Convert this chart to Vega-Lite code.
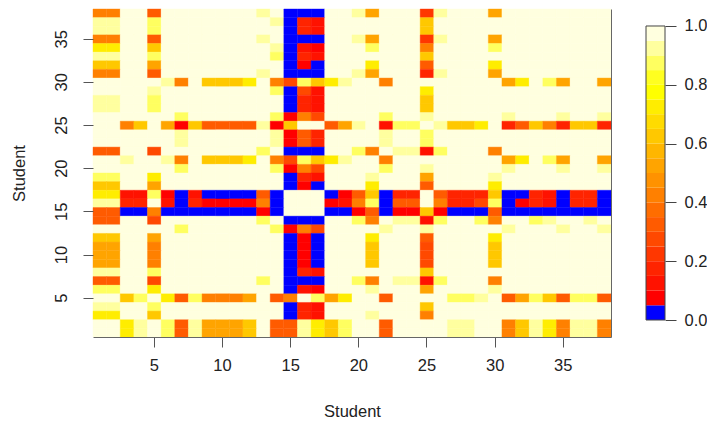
{"$schema":"https://vega.github.io/schema/vega-lite/v6.json","background":"white","padding":{"left":10,"top":8,"right":0,"bottom":0},"spacing":33,"config":{"view":{"stroke":null},"font":"Liberation Sans"},
"hconcat":[{"width":518,"height":328,"resolve":{"axis":{"y":"independent"}},"layer":[{"data":{"values":[
{"x":1,"y":38,"v":0.43},{"x":2,"y":38,"v":0.43},{"x":3,"y":38,"v":0.98},{"x":4,"y":38,"v":0.98},{"x":5,"y":38,"v":0.33},{"x":6,"y":38,"v":0.98},{"x":7,"y":38,"v":0.98},{"x":8,"y":38,"v":0.98},{"x":9,"y":38,"v":0.98},{"x":10,"y":38,"v":0.98},{"x":11,"y":38,"v":0.98},{"x":12,"y":38,"v":0.98},{"x":13,"y":38,"v":0.93},{"x":14,"y":38,"v":0.98},{"x":15,"y":38,"v":0.03},{"x":16,"y":38,"v":0.03},{"x":17,"y":38,"v":0.03},{"x":18,"y":38,"v":0.98},{"x":19,"y":38,"v":0.98},{"x":20,"y":38,"v":0.93},{"x":21,"y":38,"v":0.53},{"x":22,"y":38,"v":0.98},{"x":23,"y":38,"v":0.98},{"x":24,"y":38,"v":0.98},{"x":25,"y":38,"v":0.23},{"x":26,"y":38,"v":0.93},{"x":27,"y":38,"v":0.98},{"x":28,"y":38,"v":0.98},{"x":29,"y":38,"v":0.98},{"x":30,"y":38,"v":0.53},{"x":31,"y":38,"v":0.98},{"x":32,"y":38,"v":0.98},{"x":33,"y":38,"v":0.98},{"x":34,"y":38,"v":0.98},{"x":35,"y":38,"v":0.98},{"x":36,"y":38,"v":0.98},{"x":37,"y":38,"v":0.98},{"x":38,"y":38,"v":0.98},
{"x":1,"y":37,"v":0.93},{"x":2,"y":37,"v":0.93},{"x":3,"y":37,"v":0.98},{"x":4,"y":37,"v":0.98},{"x":5,"y":37,"v":0.88},{"x":6,"y":37,"v":0.98},{"x":7,"y":37,"v":0.98},{"x":8,"y":37,"v":0.98},{"x":9,"y":37,"v":0.98},{"x":10,"y":37,"v":0.98},{"x":11,"y":37,"v":0.98},{"x":12,"y":37,"v":0.98},{"x":13,"y":37,"v":0.98},{"x":14,"y":37,"v":0.93},{"x":15,"y":37,"v":0.03},{"x":16,"y":37,"v":0.18},{"x":17,"y":37,"v":0.13},{"x":18,"y":37,"v":0.98},{"x":19,"y":37,"v":0.98},{"x":20,"y":37,"v":0.98},{"x":21,"y":37,"v":0.98},{"x":22,"y":37,"v":0.98},{"x":23,"y":37,"v":0.98},{"x":24,"y":37,"v":0.98},{"x":25,"y":37,"v":0.63},{"x":26,"y":37,"v":0.98},{"x":27,"y":37,"v":0.98},{"x":28,"y":37,"v":0.98},{"x":29,"y":37,"v":0.98},{"x":30,"y":37,"v":0.98},{"x":31,"y":37,"v":0.98},{"x":32,"y":37,"v":0.98},{"x":33,"y":37,"v":0.98},{"x":34,"y":37,"v":0.98},{"x":35,"y":37,"v":0.98},{"x":36,"y":37,"v":0.98},{"x":37,"y":37,"v":0.98},{"x":38,"y":37,"v":0.98},
{"x":1,"y":36,"v":0.93},{"x":2,"y":36,"v":0.93},{"x":3,"y":36,"v":0.98},{"x":4,"y":36,"v":0.98},{"x":5,"y":36,"v":0.88},{"x":6,"y":36,"v":0.98},{"x":7,"y":36,"v":0.98},{"x":8,"y":36,"v":0.98},{"x":9,"y":36,"v":0.98},{"x":10,"y":36,"v":0.98},{"x":11,"y":36,"v":0.98},{"x":12,"y":36,"v":0.98},{"x":13,"y":36,"v":0.98},{"x":14,"y":36,"v":0.98},{"x":15,"y":36,"v":0.03},{"x":16,"y":36,"v":0.18},{"x":17,"y":36,"v":0.13},{"x":18,"y":36,"v":0.98},{"x":19,"y":36,"v":0.98},{"x":20,"y":36,"v":0.98},{"x":21,"y":36,"v":0.98},{"x":22,"y":36,"v":0.98},{"x":23,"y":36,"v":0.98},{"x":24,"y":36,"v":0.98},{"x":25,"y":36,"v":0.63},{"x":26,"y":36,"v":0.98},{"x":27,"y":36,"v":0.98},{"x":28,"y":36,"v":0.98},{"x":29,"y":36,"v":0.98},{"x":30,"y":36,"v":0.98},{"x":31,"y":36,"v":0.98},{"x":32,"y":36,"v":0.98},{"x":33,"y":36,"v":0.98},{"x":34,"y":36,"v":0.98},{"x":35,"y":36,"v":0.98},{"x":36,"y":36,"v":0.98},{"x":37,"y":36,"v":0.98},{"x":38,"y":36,"v":0.98},
{"x":1,"y":35,"v":0.43},{"x":2,"y":35,"v":0.43},{"x":3,"y":35,"v":0.98},{"x":4,"y":35,"v":0.98},{"x":5,"y":35,"v":0.33},{"x":6,"y":35,"v":0.98},{"x":7,"y":35,"v":0.98},{"x":8,"y":35,"v":0.98},{"x":9,"y":35,"v":0.98},{"x":10,"y":35,"v":0.98},{"x":11,"y":35,"v":0.98},{"x":12,"y":35,"v":0.98},{"x":13,"y":35,"v":0.93},{"x":14,"y":35,"v":0.98},{"x":15,"y":35,"v":0.03},{"x":16,"y":35,"v":0.03},{"x":17,"y":35,"v":0.03},{"x":18,"y":35,"v":0.98},{"x":19,"y":35,"v":0.98},{"x":20,"y":35,"v":0.93},{"x":21,"y":35,"v":0.53},{"x":22,"y":35,"v":0.98},{"x":23,"y":35,"v":0.98},{"x":24,"y":35,"v":0.98},{"x":25,"y":35,"v":0.23},{"x":26,"y":35,"v":0.93},{"x":27,"y":35,"v":0.98},{"x":28,"y":35,"v":0.98},{"x":29,"y":35,"v":0.98},{"x":30,"y":35,"v":0.53},{"x":31,"y":35,"v":0.98},{"x":32,"y":35,"v":0.98},{"x":33,"y":35,"v":0.98},{"x":34,"y":35,"v":0.98},{"x":35,"y":35,"v":0.98},{"x":36,"y":35,"v":0.98},{"x":37,"y":35,"v":0.98},{"x":38,"y":35,"v":0.98},
{"x":1,"y":34,"v":0.73},{"x":2,"y":34,"v":0.73},{"x":3,"y":34,"v":0.98},{"x":4,"y":34,"v":0.98},{"x":5,"y":34,"v":0.63},{"x":6,"y":34,"v":0.98},{"x":7,"y":34,"v":0.98},{"x":8,"y":34,"v":0.98},{"x":9,"y":34,"v":0.98},{"x":10,"y":34,"v":0.98},{"x":11,"y":34,"v":0.98},{"x":12,"y":34,"v":0.98},{"x":13,"y":34,"v":0.98},{"x":14,"y":34,"v":0.93},{"x":15,"y":34,"v":0.03},{"x":16,"y":34,"v":0.13},{"x":17,"y":34,"v":0.08},{"x":18,"y":34,"v":0.98},{"x":19,"y":34,"v":0.98},{"x":20,"y":34,"v":0.98},{"x":21,"y":34,"v":0.88},{"x":22,"y":34,"v":0.98},{"x":23,"y":34,"v":0.98},{"x":24,"y":34,"v":0.98},{"x":25,"y":34,"v":0.43},{"x":26,"y":34,"v":0.98},{"x":27,"y":34,"v":0.98},{"x":28,"y":34,"v":0.98},{"x":29,"y":34,"v":0.98},{"x":30,"y":34,"v":0.88},{"x":31,"y":34,"v":0.98},{"x":32,"y":34,"v":0.98},{"x":33,"y":34,"v":0.98},{"x":34,"y":34,"v":0.98},{"x":35,"y":34,"v":0.98},{"x":36,"y":34,"v":0.98},{"x":37,"y":34,"v":0.98},{"x":38,"y":34,"v":0.98},
{"x":1,"y":33,"v":0.93},{"x":2,"y":33,"v":0.93},{"x":3,"y":33,"v":0.98},{"x":4,"y":33,"v":0.98},{"x":5,"y":33,"v":0.88},{"x":6,"y":33,"v":0.98},{"x":7,"y":33,"v":0.98},{"x":8,"y":33,"v":0.98},{"x":9,"y":33,"v":0.98},{"x":10,"y":33,"v":0.98},{"x":11,"y":33,"v":0.98},{"x":12,"y":33,"v":0.98},{"x":13,"y":33,"v":0.98},{"x":14,"y":33,"v":0.88},{"x":15,"y":33,"v":0.03},{"x":16,"y":33,"v":0.18},{"x":17,"y":33,"v":0.13},{"x":18,"y":33,"v":0.98},{"x":19,"y":33,"v":0.98},{"x":20,"y":33,"v":0.98},{"x":21,"y":33,"v":0.98},{"x":22,"y":33,"v":0.98},{"x":23,"y":33,"v":0.98},{"x":24,"y":33,"v":0.98},{"x":25,"y":33,"v":0.63},{"x":26,"y":33,"v":0.98},{"x":27,"y":33,"v":0.98},{"x":28,"y":33,"v":0.98},{"x":29,"y":33,"v":0.98},{"x":30,"y":33,"v":0.98},{"x":31,"y":33,"v":0.98},{"x":32,"y":33,"v":0.98},{"x":33,"y":33,"v":0.98},{"x":34,"y":33,"v":0.98},{"x":35,"y":33,"v":0.98},{"x":36,"y":33,"v":0.98},{"x":37,"y":33,"v":0.98},{"x":38,"y":33,"v":0.98},
{"x":1,"y":32,"v":0.63},{"x":2,"y":32,"v":0.63},{"x":3,"y":32,"v":0.98},{"x":4,"y":32,"v":0.98},{"x":5,"y":32,"v":0.53},{"x":6,"y":32,"v":0.98},{"x":7,"y":32,"v":0.98},{"x":8,"y":32,"v":0.98},{"x":9,"y":32,"v":0.98},{"x":10,"y":32,"v":0.98},{"x":11,"y":32,"v":0.98},{"x":12,"y":32,"v":0.98},{"x":13,"y":32,"v":0.98},{"x":14,"y":32,"v":0.98},{"x":15,"y":32,"v":0.03},{"x":16,"y":32,"v":0.08},{"x":17,"y":32,"v":0.03},{"x":18,"y":32,"v":0.98},{"x":19,"y":32,"v":0.98},{"x":20,"y":32,"v":0.98},{"x":21,"y":32,"v":0.73},{"x":22,"y":32,"v":0.98},{"x":23,"y":32,"v":0.98},{"x":24,"y":32,"v":0.98},{"x":25,"y":32,"v":0.33},{"x":26,"y":32,"v":0.98},{"x":27,"y":32,"v":0.98},{"x":28,"y":32,"v":0.98},{"x":29,"y":32,"v":0.98},{"x":30,"y":32,"v":0.73},{"x":31,"y":32,"v":0.98},{"x":32,"y":32,"v":0.98},{"x":33,"y":32,"v":0.98},{"x":34,"y":32,"v":0.98},{"x":35,"y":32,"v":0.98},{"x":36,"y":32,"v":0.98},{"x":37,"y":32,"v":0.98},{"x":38,"y":32,"v":0.98},
{"x":1,"y":31,"v":0.43},{"x":2,"y":31,"v":0.43},{"x":3,"y":31,"v":0.98},{"x":4,"y":31,"v":0.98},{"x":5,"y":31,"v":0.33},{"x":6,"y":31,"v":0.98},{"x":7,"y":31,"v":0.98},{"x":8,"y":31,"v":0.98},{"x":9,"y":31,"v":0.98},{"x":10,"y":31,"v":0.98},{"x":11,"y":31,"v":0.98},{"x":12,"y":31,"v":0.98},{"x":13,"y":31,"v":0.93},{"x":14,"y":31,"v":0.98},{"x":15,"y":31,"v":0.03},{"x":16,"y":31,"v":0.03},{"x":17,"y":31,"v":0.03},{"x":18,"y":31,"v":0.98},{"x":19,"y":31,"v":0.98},{"x":20,"y":31,"v":0.93},{"x":21,"y":31,"v":0.53},{"x":22,"y":31,"v":0.98},{"x":23,"y":31,"v":0.98},{"x":24,"y":31,"v":0.98},{"x":25,"y":31,"v":0.18},{"x":26,"y":31,"v":0.93},{"x":27,"y":31,"v":0.98},{"x":28,"y":31,"v":0.98},{"x":29,"y":31,"v":0.98},{"x":30,"y":31,"v":0.53},{"x":31,"y":31,"v":0.98},{"x":32,"y":31,"v":0.98},{"x":33,"y":31,"v":0.98},{"x":34,"y":31,"v":0.98},{"x":35,"y":31,"v":0.98},{"x":36,"y":31,"v":0.98},{"x":37,"y":31,"v":0.98},{"x":38,"y":31,"v":0.98},
{"x":1,"y":30,"v":0.98},{"x":2,"y":30,"v":0.98},{"x":3,"y":30,"v":0.98},{"x":4,"y":30,"v":0.98},{"x":5,"y":30,"v":0.98},{"x":6,"y":30,"v":0.93},{"x":7,"y":30,"v":0.43},{"x":8,"y":30,"v":0.98},{"x":9,"y":30,"v":0.63},{"x":10,"y":30,"v":0.63},{"x":11,"y":30,"v":0.63},{"x":12,"y":30,"v":0.73},{"x":13,"y":30,"v":0.98},{"x":14,"y":30,"v":0.43},{"x":15,"y":30,"v":0.28},{"x":16,"y":30,"v":0.88},{"x":17,"y":30,"v":0.63},{"x":18,"y":30,"v":0.73},{"x":19,"y":30,"v":0.93},{"x":20,"y":30,"v":0.98},{"x":21,"y":30,"v":0.98},{"x":22,"y":30,"v":0.43},{"x":23,"y":30,"v":0.98},{"x":24,"y":30,"v":0.98},{"x":25,"y":30,"v":0.98},{"x":26,"y":30,"v":0.98},{"x":27,"y":30,"v":0.98},{"x":28,"y":30,"v":0.98},{"x":29,"y":30,"v":0.98},{"x":30,"y":30,"v":0.98},{"x":31,"y":30,"v":0.53},{"x":32,"y":30,"v":0.73},{"x":33,"y":30,"v":0.98},{"x":34,"y":30,"v":0.88},{"x":35,"y":30,"v":0.53},{"x":36,"y":30,"v":0.98},{"x":37,"y":30,"v":0.98},{"x":38,"y":30,"v":0.53},
{"x":1,"y":29,"v":0.98},{"x":2,"y":29,"v":0.98},{"x":3,"y":29,"v":0.98},{"x":4,"y":29,"v":0.98},{"x":5,"y":29,"v":0.93},{"x":6,"y":29,"v":0.98},{"x":7,"y":29,"v":0.98},{"x":8,"y":29,"v":0.98},{"x":9,"y":29,"v":0.98},{"x":10,"y":29,"v":0.98},{"x":11,"y":29,"v":0.98},{"x":12,"y":29,"v":0.98},{"x":13,"y":29,"v":0.98},{"x":14,"y":29,"v":0.88},{"x":15,"y":29,"v":0.03},{"x":16,"y":29,"v":0.28},{"x":17,"y":29,"v":0.13},{"x":18,"y":29,"v":0.98},{"x":19,"y":29,"v":0.98},{"x":20,"y":29,"v":0.98},{"x":21,"y":29,"v":0.98},{"x":22,"y":29,"v":0.98},{"x":23,"y":29,"v":0.98},{"x":24,"y":29,"v":0.98},{"x":25,"y":29,"v":0.73},{"x":26,"y":29,"v":0.98},{"x":27,"y":29,"v":0.98},{"x":28,"y":29,"v":0.98},{"x":29,"y":29,"v":0.98},{"x":30,"y":29,"v":0.98},{"x":31,"y":29,"v":0.98},{"x":32,"y":29,"v":0.98},{"x":33,"y":29,"v":0.98},{"x":34,"y":29,"v":0.98},{"x":35,"y":29,"v":0.98},{"x":36,"y":29,"v":0.98},{"x":37,"y":29,"v":0.98},{"x":38,"y":29,"v":0.98},
{"x":1,"y":28,"v":0.93},{"x":2,"y":28,"v":0.93},{"x":3,"y":28,"v":0.98},{"x":4,"y":28,"v":0.98},{"x":5,"y":28,"v":0.88},{"x":6,"y":28,"v":0.98},{"x":7,"y":28,"v":0.98},{"x":8,"y":28,"v":0.98},{"x":9,"y":28,"v":0.98},{"x":10,"y":28,"v":0.98},{"x":11,"y":28,"v":0.98},{"x":12,"y":28,"v":0.98},{"x":13,"y":28,"v":0.98},{"x":14,"y":28,"v":0.98},{"x":15,"y":28,"v":0.03},{"x":16,"y":28,"v":0.18},{"x":17,"y":28,"v":0.13},{"x":18,"y":28,"v":0.98},{"x":19,"y":28,"v":0.98},{"x":20,"y":28,"v":0.98},{"x":21,"y":28,"v":0.98},{"x":22,"y":28,"v":0.98},{"x":23,"y":28,"v":0.98},{"x":24,"y":28,"v":0.98},{"x":25,"y":28,"v":0.63},{"x":26,"y":28,"v":0.98},{"x":27,"y":28,"v":0.98},{"x":28,"y":28,"v":0.98},{"x":29,"y":28,"v":0.98},{"x":30,"y":28,"v":0.98},{"x":31,"y":28,"v":0.98},{"x":32,"y":28,"v":0.98},{"x":33,"y":28,"v":0.98},{"x":34,"y":28,"v":0.98},{"x":35,"y":28,"v":0.98},{"x":36,"y":28,"v":0.98},{"x":37,"y":28,"v":0.98},{"x":38,"y":28,"v":0.98},
{"x":1,"y":27,"v":0.93},{"x":2,"y":27,"v":0.93},{"x":3,"y":27,"v":0.98},{"x":4,"y":27,"v":0.98},{"x":5,"y":27,"v":0.88},{"x":6,"y":27,"v":0.98},{"x":7,"y":27,"v":0.98},{"x":8,"y":27,"v":0.98},{"x":9,"y":27,"v":0.98},{"x":10,"y":27,"v":0.98},{"x":11,"y":27,"v":0.98},{"x":12,"y":27,"v":0.98},{"x":13,"y":27,"v":0.98},{"x":14,"y":27,"v":0.98},{"x":15,"y":27,"v":0.03},{"x":16,"y":27,"v":0.18},{"x":17,"y":27,"v":0.13},{"x":18,"y":27,"v":0.98},{"x":19,"y":27,"v":0.98},{"x":20,"y":27,"v":0.98},{"x":21,"y":27,"v":0.98},{"x":22,"y":27,"v":0.98},{"x":23,"y":27,"v":0.98},{"x":24,"y":27,"v":0.98},{"x":25,"y":27,"v":0.63},{"x":26,"y":27,"v":0.98},{"x":27,"y":27,"v":0.98},{"x":28,"y":27,"v":0.98},{"x":29,"y":27,"v":0.98},{"x":30,"y":27,"v":0.98},{"x":31,"y":27,"v":0.98},{"x":32,"y":27,"v":0.98},{"x":33,"y":27,"v":0.98},{"x":34,"y":27,"v":0.98},{"x":35,"y":27,"v":0.98},{"x":36,"y":27,"v":0.98},{"x":37,"y":27,"v":0.98},{"x":38,"y":27,"v":0.98},
{"x":1,"y":26,"v":0.98},{"x":2,"y":26,"v":0.98},{"x":3,"y":26,"v":0.98},{"x":4,"y":26,"v":0.98},{"x":5,"y":26,"v":0.98},{"x":6,"y":26,"v":0.98},{"x":7,"y":26,"v":0.88},{"x":8,"y":26,"v":0.98},{"x":9,"y":26,"v":0.98},{"x":10,"y":26,"v":0.98},{"x":11,"y":26,"v":0.98},{"x":12,"y":26,"v":0.98},{"x":13,"y":26,"v":0.98},{"x":14,"y":26,"v":0.88},{"x":15,"y":26,"v":0.08},{"x":16,"y":26,"v":0.43},{"x":17,"y":26,"v":0.28},{"x":18,"y":26,"v":0.98},{"x":19,"y":26,"v":0.98},{"x":20,"y":26,"v":0.98},{"x":21,"y":26,"v":0.98},{"x":22,"y":26,"v":0.88},{"x":23,"y":26,"v":0.98},{"x":24,"y":26,"v":0.98},{"x":25,"y":26,"v":0.93},{"x":26,"y":26,"v":0.98},{"x":27,"y":26,"v":0.98},{"x":28,"y":26,"v":0.98},{"x":29,"y":26,"v":0.98},{"x":30,"y":26,"v":0.98},{"x":31,"y":26,"v":0.93},{"x":32,"y":26,"v":0.98},{"x":33,"y":26,"v":0.98},{"x":34,"y":26,"v":0.98},{"x":35,"y":26,"v":0.93},{"x":36,"y":26,"v":0.98},{"x":37,"y":26,"v":0.98},{"x":38,"y":26,"v":0.93},
{"x":1,"y":25,"v":0.98},{"x":2,"y":25,"v":0.98},{"x":3,"y":25,"v":0.43},{"x":4,"y":25,"v":0.63},{"x":5,"y":25,"v":0.98},{"x":6,"y":25,"v":0.53},{"x":7,"y":25,"v":0.08},{"x":8,"y":25,"v":0.63},{"x":9,"y":25,"v":0.33},{"x":10,"y":25,"v":0.33},{"x":11,"y":25,"v":0.33},{"x":12,"y":25,"v":0.33},{"x":13,"y":25,"v":0.93},{"x":14,"y":25,"v":0.08},{"x":15,"y":25,"v":0.63},{"x":16,"y":25,"v":0.98},{"x":17,"y":25,"v":0.98},{"x":18,"y":25,"v":0.33},{"x":19,"y":25,"v":0.53},{"x":20,"y":25,"v":0.93},{"x":21,"y":25,"v":0.98},{"x":22,"y":25,"v":0.13},{"x":23,"y":25,"v":0.88},{"x":24,"y":25,"v":0.88},{"x":25,"y":25,"v":0.98},{"x":26,"y":25,"v":0.93},{"x":27,"y":25,"v":0.63},{"x":28,"y":25,"v":0.63},{"x":29,"y":25,"v":0.73},{"x":30,"y":25,"v":0.98},{"x":31,"y":25,"v":0.18},{"x":32,"y":25,"v":0.33},{"x":33,"y":25,"v":0.63},{"x":34,"y":25,"v":0.43},{"x":35,"y":25,"v":0.18},{"x":36,"y":25,"v":0.63},{"x":37,"y":25,"v":0.63},{"x":38,"y":25,"v":0.18},
{"x":1,"y":24,"v":0.98},{"x":2,"y":24,"v":0.98},{"x":3,"y":24,"v":0.98},{"x":4,"y":24,"v":0.98},{"x":5,"y":24,"v":0.98},{"x":6,"y":24,"v":0.98},{"x":7,"y":24,"v":0.93},{"x":8,"y":24,"v":0.98},{"x":9,"y":24,"v":0.98},{"x":10,"y":24,"v":0.98},{"x":11,"y":24,"v":0.98},{"x":12,"y":24,"v":0.98},{"x":13,"y":24,"v":0.98},{"x":14,"y":24,"v":0.93},{"x":15,"y":24,"v":0.08},{"x":16,"y":24,"v":0.33},{"x":17,"y":24,"v":0.18},{"x":18,"y":24,"v":0.98},{"x":19,"y":24,"v":0.98},{"x":20,"y":24,"v":0.98},{"x":21,"y":24,"v":0.98},{"x":22,"y":24,"v":0.93},{"x":23,"y":24,"v":0.98},{"x":24,"y":24,"v":0.98},{"x":25,"y":24,"v":0.88},{"x":26,"y":24,"v":0.98},{"x":27,"y":24,"v":0.98},{"x":28,"y":24,"v":0.98},{"x":29,"y":24,"v":0.98},{"x":30,"y":24,"v":0.98},{"x":31,"y":24,"v":0.98},{"x":32,"y":24,"v":0.98},{"x":33,"y":24,"v":0.98},{"x":34,"y":24,"v":0.98},{"x":35,"y":24,"v":0.98},{"x":36,"y":24,"v":0.98},{"x":37,"y":24,"v":0.98},{"x":38,"y":24,"v":0.98},
{"x":1,"y":23,"v":0.98},{"x":2,"y":23,"v":0.98},{"x":3,"y":23,"v":0.98},{"x":4,"y":23,"v":0.98},{"x":5,"y":23,"v":0.98},{"x":6,"y":23,"v":0.98},{"x":7,"y":23,"v":0.93},{"x":8,"y":23,"v":0.98},{"x":9,"y":23,"v":0.98},{"x":10,"y":23,"v":0.98},{"x":11,"y":23,"v":0.98},{"x":12,"y":23,"v":0.98},{"x":13,"y":23,"v":0.98},{"x":14,"y":23,"v":0.93},{"x":15,"y":23,"v":0.08},{"x":16,"y":23,"v":0.33},{"x":17,"y":23,"v":0.18},{"x":18,"y":23,"v":0.98},{"x":19,"y":23,"v":0.98},{"x":20,"y":23,"v":0.98},{"x":21,"y":23,"v":0.98},{"x":22,"y":23,"v":0.93},{"x":23,"y":23,"v":0.98},{"x":24,"y":23,"v":0.98},{"x":25,"y":23,"v":0.88},{"x":26,"y":23,"v":0.98},{"x":27,"y":23,"v":0.98},{"x":28,"y":23,"v":0.98},{"x":29,"y":23,"v":0.98},{"x":30,"y":23,"v":0.98},{"x":31,"y":23,"v":0.98},{"x":32,"y":23,"v":0.98},{"x":33,"y":23,"v":0.98},{"x":34,"y":23,"v":0.98},{"x":35,"y":23,"v":0.98},{"x":36,"y":23,"v":0.98},{"x":37,"y":23,"v":0.98},{"x":38,"y":23,"v":0.98},
{"x":1,"y":22,"v":0.33},{"x":2,"y":22,"v":0.33},{"x":3,"y":22,"v":0.98},{"x":4,"y":22,"v":0.98},{"x":5,"y":22,"v":0.28},{"x":6,"y":22,"v":0.98},{"x":7,"y":22,"v":0.98},{"x":8,"y":22,"v":0.98},{"x":9,"y":22,"v":0.98},{"x":10,"y":22,"v":0.98},{"x":11,"y":22,"v":0.98},{"x":12,"y":22,"v":0.98},{"x":13,"y":22,"v":0.88},{"x":14,"y":22,"v":0.98},{"x":15,"y":22,"v":0.03},{"x":16,"y":22,"v":0.03},{"x":17,"y":22,"v":0.03},{"x":18,"y":22,"v":0.98},{"x":19,"y":22,"v":0.98},{"x":20,"y":22,"v":0.88},{"x":21,"y":22,"v":0.43},{"x":22,"y":22,"v":0.98},{"x":23,"y":22,"v":0.93},{"x":24,"y":22,"v":0.93},{"x":25,"y":22,"v":0.13},{"x":26,"y":22,"v":0.88},{"x":27,"y":22,"v":0.98},{"x":28,"y":22,"v":0.98},{"x":29,"y":22,"v":0.98},{"x":30,"y":22,"v":0.43},{"x":31,"y":22,"v":0.98},{"x":32,"y":22,"v":0.98},{"x":33,"y":22,"v":0.98},{"x":34,"y":22,"v":0.98},{"x":35,"y":22,"v":0.98},{"x":36,"y":22,"v":0.98},{"x":37,"y":22,"v":0.98},{"x":38,"y":22,"v":0.98},
{"x":1,"y":21,"v":0.98},{"x":2,"y":21,"v":0.98},{"x":3,"y":21,"v":0.93},{"x":4,"y":21,"v":0.98},{"x":5,"y":21,"v":0.98},{"x":6,"y":21,"v":0.93},{"x":7,"y":21,"v":0.43},{"x":8,"y":21,"v":0.98},{"x":9,"y":21,"v":0.63},{"x":10,"y":21,"v":0.63},{"x":11,"y":21,"v":0.63},{"x":12,"y":21,"v":0.73},{"x":13,"y":21,"v":0.98},{"x":14,"y":21,"v":0.43},{"x":15,"y":21,"v":0.28},{"x":16,"y":21,"v":0.88},{"x":17,"y":21,"v":0.63},{"x":18,"y":21,"v":0.73},{"x":19,"y":21,"v":0.93},{"x":20,"y":21,"v":0.98},{"x":21,"y":21,"v":0.98},{"x":22,"y":21,"v":0.43},{"x":23,"y":21,"v":0.98},{"x":24,"y":21,"v":0.98},{"x":25,"y":21,"v":0.98},{"x":26,"y":21,"v":0.98},{"x":27,"y":21,"v":0.98},{"x":28,"y":21,"v":0.98},{"x":29,"y":21,"v":0.98},{"x":30,"y":21,"v":0.98},{"x":31,"y":21,"v":0.53},{"x":32,"y":21,"v":0.73},{"x":33,"y":21,"v":0.98},{"x":34,"y":21,"v":0.88},{"x":35,"y":21,"v":0.53},{"x":36,"y":21,"v":0.98},{"x":37,"y":21,"v":0.98},{"x":38,"y":21,"v":0.53},
{"x":1,"y":20,"v":0.98},{"x":2,"y":20,"v":0.98},{"x":3,"y":20,"v":0.98},{"x":4,"y":20,"v":0.98},{"x":5,"y":20,"v":0.98},{"x":6,"y":20,"v":0.98},{"x":7,"y":20,"v":0.88},{"x":8,"y":20,"v":0.98},{"x":9,"y":20,"v":0.98},{"x":10,"y":20,"v":0.98},{"x":11,"y":20,"v":0.98},{"x":12,"y":20,"v":0.98},{"x":13,"y":20,"v":0.98},{"x":14,"y":20,"v":0.88},{"x":15,"y":20,"v":0.08},{"x":16,"y":20,"v":0.43},{"x":17,"y":20,"v":0.28},{"x":18,"y":20,"v":0.98},{"x":19,"y":20,"v":0.98},{"x":20,"y":20,"v":0.98},{"x":21,"y":20,"v":0.98},{"x":22,"y":20,"v":0.88},{"x":23,"y":20,"v":0.98},{"x":24,"y":20,"v":0.98},{"x":25,"y":20,"v":0.93},{"x":26,"y":20,"v":0.98},{"x":27,"y":20,"v":0.98},{"x":28,"y":20,"v":0.98},{"x":29,"y":20,"v":0.98},{"x":30,"y":20,"v":0.98},{"x":31,"y":20,"v":0.93},{"x":32,"y":20,"v":0.98},{"x":33,"y":20,"v":0.98},{"x":34,"y":20,"v":0.98},{"x":35,"y":20,"v":0.93},{"x":36,"y":20,"v":0.98},{"x":37,"y":20,"v":0.98},{"x":38,"y":20,"v":0.93},
{"x":1,"y":19,"v":0.88},{"x":2,"y":19,"v":0.88},{"x":3,"y":19,"v":0.98},{"x":4,"y":19,"v":0.98},{"x":5,"y":19,"v":0.73},{"x":6,"y":19,"v":0.98},{"x":7,"y":19,"v":0.98},{"x":8,"y":19,"v":0.98},{"x":9,"y":19,"v":0.98},{"x":10,"y":19,"v":0.98},{"x":11,"y":19,"v":0.98},{"x":12,"y":19,"v":0.98},{"x":13,"y":19,"v":0.98},{"x":14,"y":19,"v":0.98},{"x":15,"y":19,"v":0.03},{"x":16,"y":19,"v":0.18},{"x":17,"y":19,"v":0.13},{"x":18,"y":19,"v":0.98},{"x":19,"y":19,"v":0.98},{"x":20,"y":19,"v":0.98},{"x":21,"y":19,"v":0.93},{"x":22,"y":19,"v":0.98},{"x":23,"y":19,"v":0.98},{"x":24,"y":19,"v":0.98},{"x":25,"y":19,"v":0.53},{"x":26,"y":19,"v":0.98},{"x":27,"y":19,"v":0.98},{"x":28,"y":19,"v":0.98},{"x":29,"y":19,"v":0.98},{"x":30,"y":19,"v":0.93},{"x":31,"y":19,"v":0.98},{"x":32,"y":19,"v":0.98},{"x":33,"y":19,"v":0.98},{"x":34,"y":19,"v":0.98},{"x":35,"y":19,"v":0.98},{"x":36,"y":19,"v":0.98},{"x":37,"y":19,"v":0.98},{"x":38,"y":19,"v":0.98},
{"x":1,"y":18,"v":0.63},{"x":2,"y":18,"v":0.63},{"x":3,"y":18,"v":0.98},{"x":4,"y":18,"v":0.98},{"x":5,"y":18,"v":0.53},{"x":6,"y":18,"v":0.98},{"x":7,"y":18,"v":0.98},{"x":8,"y":18,"v":0.98},{"x":9,"y":18,"v":0.98},{"x":10,"y":18,"v":0.98},{"x":11,"y":18,"v":0.98},{"x":12,"y":18,"v":0.98},{"x":13,"y":18,"v":0.98},{"x":14,"y":18,"v":0.98},{"x":15,"y":18,"v":0.03},{"x":16,"y":18,"v":0.08},{"x":17,"y":18,"v":0.03},{"x":18,"y":18,"v":0.98},{"x":19,"y":18,"v":0.98},{"x":20,"y":18,"v":0.98},{"x":21,"y":18,"v":0.73},{"x":22,"y":18,"v":0.98},{"x":23,"y":18,"v":0.98},{"x":24,"y":18,"v":0.98},{"x":25,"y":18,"v":0.33},{"x":26,"y":18,"v":0.98},{"x":27,"y":18,"v":0.98},{"x":28,"y":18,"v":0.98},{"x":29,"y":18,"v":0.98},{"x":30,"y":18,"v":0.73},{"x":31,"y":18,"v":0.98},{"x":32,"y":18,"v":0.98},{"x":33,"y":18,"v":0.98},{"x":34,"y":18,"v":0.98},{"x":35,"y":18,"v":0.98},{"x":36,"y":18,"v":0.98},{"x":37,"y":18,"v":0.98},{"x":38,"y":18,"v":0.98},
{"x":1,"y":17,"v":0.73},{"x":2,"y":17,"v":0.73},{"x":3,"y":17,"v":0.13},{"x":4,"y":17,"v":0.13},{"x":5,"y":17,"v":0.88},{"x":6,"y":17,"v":0.08},{"x":7,"y":17,"v":0.03},{"x":8,"y":17,"v":0.13},{"x":9,"y":17,"v":0.03},{"x":10,"y":17,"v":0.03},{"x":11,"y":17,"v":0.03},{"x":12,"y":17,"v":0.03},{"x":13,"y":17,"v":0.33},{"x":14,"y":17,"v":0.03},{"x":15,"y":17,"v":0.98},{"x":16,"y":17,"v":0.98},{"x":17,"y":17,"v":0.98},{"x":18,"y":17,"v":0.03},{"x":19,"y":17,"v":0.08},{"x":20,"y":17,"v":0.33},{"x":21,"y":17,"v":0.63},{"x":22,"y":17,"v":0.03},{"x":23,"y":17,"v":0.18},{"x":24,"y":17,"v":0.18},{"x":25,"y":17,"v":0.98},{"x":26,"y":17,"v":0.33},{"x":27,"y":17,"v":0.18},{"x":28,"y":17,"v":0.18},{"x":29,"y":17,"v":0.18},{"x":30,"y":17,"v":0.63},{"x":31,"y":17,"v":0.03},{"x":32,"y":17,"v":0.03},{"x":33,"y":17,"v":0.18},{"x":34,"y":17,"v":0.13},{"x":35,"y":17,"v":0.03},{"x":36,"y":17,"v":0.18},{"x":37,"y":17,"v":0.18},{"x":38,"y":17,"v":0.03},
{"x":1,"y":16,"v":0.93},{"x":2,"y":16,"v":0.93},{"x":3,"y":16,"v":0.18},{"x":4,"y":16,"v":0.18},{"x":5,"y":16,"v":0.98},{"x":6,"y":16,"v":0.13},{"x":7,"y":16,"v":0.03},{"x":8,"y":16,"v":0.18},{"x":9,"y":16,"v":0.08},{"x":10,"y":16,"v":0.08},{"x":11,"y":16,"v":0.08},{"x":12,"y":16,"v":0.08},{"x":13,"y":16,"v":0.43},{"x":14,"y":16,"v":0.03},{"x":15,"y":16,"v":0.98},{"x":16,"y":16,"v":0.98},{"x":17,"y":16,"v":0.98},{"x":18,"y":16,"v":0.08},{"x":19,"y":16,"v":0.13},{"x":20,"y":16,"v":0.43},{"x":21,"y":16,"v":0.88},{"x":22,"y":16,"v":0.03},{"x":23,"y":16,"v":0.33},{"x":24,"y":16,"v":0.33},{"x":25,"y":16,"v":0.98},{"x":26,"y":16,"v":0.43},{"x":27,"y":16,"v":0.18},{"x":28,"y":16,"v":0.18},{"x":29,"y":16,"v":0.28},{"x":30,"y":16,"v":0.88},{"x":31,"y":16,"v":0.03},{"x":32,"y":16,"v":0.08},{"x":33,"y":16,"v":0.18},{"x":34,"y":16,"v":0.13},{"x":35,"y":16,"v":0.03},{"x":36,"y":16,"v":0.18},{"x":37,"y":16,"v":0.18},{"x":38,"y":16,"v":0.03},
{"x":1,"y":15,"v":0.33},{"x":2,"y":15,"v":0.33},{"x":3,"y":15,"v":0.03},{"x":4,"y":15,"v":0.03},{"x":5,"y":15,"v":0.43},{"x":6,"y":15,"v":0.03},{"x":7,"y":15,"v":0.03},{"x":8,"y":15,"v":0.03},{"x":9,"y":15,"v":0.03},{"x":10,"y":15,"v":0.03},{"x":11,"y":15,"v":0.03},{"x":12,"y":15,"v":0.03},{"x":13,"y":15,"v":0.08},{"x":14,"y":15,"v":0.03},{"x":15,"y":15,"v":0.98},{"x":16,"y":15,"v":0.98},{"x":17,"y":15,"v":0.98},{"x":18,"y":15,"v":0.03},{"x":19,"y":15,"v":0.03},{"x":20,"y":15,"v":0.08},{"x":21,"y":15,"v":0.33},{"x":22,"y":15,"v":0.03},{"x":23,"y":15,"v":0.08},{"x":24,"y":15,"v":0.08},{"x":25,"y":15,"v":0.63},{"x":26,"y":15,"v":0.08},{"x":27,"y":15,"v":0.03},{"x":28,"y":15,"v":0.03},{"x":29,"y":15,"v":0.03},{"x":30,"y":15,"v":0.33},{"x":31,"y":15,"v":0.03},{"x":32,"y":15,"v":0.03},{"x":33,"y":15,"v":0.03},{"x":34,"y":15,"v":0.03},{"x":35,"y":15,"v":0.03},{"x":36,"y":15,"v":0.03},{"x":37,"y":15,"v":0.03},{"x":38,"y":15,"v":0.03},
{"x":1,"y":14,"v":0.33},{"x":2,"y":14,"v":0.33},{"x":3,"y":14,"v":0.98},{"x":4,"y":14,"v":0.98},{"x":5,"y":14,"v":0.28},{"x":6,"y":14,"v":0.98},{"x":7,"y":14,"v":0.98},{"x":8,"y":14,"v":0.98},{"x":9,"y":14,"v":0.98},{"x":10,"y":14,"v":0.98},{"x":11,"y":14,"v":0.98},{"x":12,"y":14,"v":0.98},{"x":13,"y":14,"v":0.88},{"x":14,"y":14,"v":0.98},{"x":15,"y":14,"v":0.03},{"x":16,"y":14,"v":0.03},{"x":17,"y":14,"v":0.03},{"x":18,"y":14,"v":0.98},{"x":19,"y":14,"v":0.98},{"x":20,"y":14,"v":0.88},{"x":21,"y":14,"v":0.43},{"x":22,"y":14,"v":0.98},{"x":23,"y":14,"v":0.93},{"x":24,"y":14,"v":0.93},{"x":25,"y":14,"v":0.13},{"x":26,"y":14,"v":0.88},{"x":27,"y":14,"v":0.98},{"x":28,"y":14,"v":0.98},{"x":29,"y":14,"v":0.88},{"x":30,"y":14,"v":0.43},{"x":31,"y":14,"v":0.98},{"x":32,"y":14,"v":0.98},{"x":33,"y":14,"v":0.88},{"x":34,"y":14,"v":0.93},{"x":35,"y":14,"v":0.98},{"x":36,"y":14,"v":0.98},{"x":37,"y":14,"v":0.93},{"x":38,"y":14,"v":0.98},
{"x":1,"y":13,"v":0.98},{"x":2,"y":13,"v":0.98},{"x":3,"y":13,"v":0.98},{"x":4,"y":13,"v":0.98},{"x":5,"y":13,"v":0.98},{"x":6,"y":13,"v":0.98},{"x":7,"y":13,"v":0.88},{"x":8,"y":13,"v":0.98},{"x":9,"y":13,"v":0.98},{"x":10,"y":13,"v":0.98},{"x":11,"y":13,"v":0.98},{"x":12,"y":13,"v":0.98},{"x":13,"y":13,"v":0.98},{"x":14,"y":13,"v":0.88},{"x":15,"y":13,"v":0.08},{"x":16,"y":13,"v":0.43},{"x":17,"y":13,"v":0.28},{"x":18,"y":13,"v":0.98},{"x":19,"y":13,"v":0.98},{"x":20,"y":13,"v":0.98},{"x":21,"y":13,"v":0.98},{"x":22,"y":13,"v":0.93},{"x":23,"y":13,"v":0.98},{"x":24,"y":13,"v":0.98},{"x":25,"y":13,"v":0.93},{"x":26,"y":13,"v":0.98},{"x":27,"y":13,"v":0.98},{"x":28,"y":13,"v":0.98},{"x":29,"y":13,"v":0.98},{"x":30,"y":13,"v":0.98},{"x":31,"y":13,"v":0.93},{"x":32,"y":13,"v":0.98},{"x":33,"y":13,"v":0.98},{"x":34,"y":13,"v":0.98},{"x":35,"y":13,"v":0.93},{"x":36,"y":13,"v":0.98},{"x":37,"y":13,"v":0.98},{"x":38,"y":13,"v":0.93},
{"x":1,"y":12,"v":0.63},{"x":2,"y":12,"v":0.63},{"x":3,"y":12,"v":0.98},{"x":4,"y":12,"v":0.98},{"x":5,"y":12,"v":0.53},{"x":6,"y":12,"v":0.98},{"x":7,"y":12,"v":0.98},{"x":8,"y":12,"v":0.98},{"x":9,"y":12,"v":0.98},{"x":10,"y":12,"v":0.98},{"x":11,"y":12,"v":0.98},{"x":12,"y":12,"v":0.98},{"x":13,"y":12,"v":0.98},{"x":14,"y":12,"v":0.98},{"x":15,"y":12,"v":0.03},{"x":16,"y":12,"v":0.08},{"x":17,"y":12,"v":0.03},{"x":18,"y":12,"v":0.98},{"x":19,"y":12,"v":0.98},{"x":20,"y":12,"v":0.98},{"x":21,"y":12,"v":0.73},{"x":22,"y":12,"v":0.98},{"x":23,"y":12,"v":0.98},{"x":24,"y":12,"v":0.98},{"x":25,"y":12,"v":0.33},{"x":26,"y":12,"v":0.98},{"x":27,"y":12,"v":0.98},{"x":28,"y":12,"v":0.98},{"x":29,"y":12,"v":0.98},{"x":30,"y":12,"v":0.73},{"x":31,"y":12,"v":0.98},{"x":32,"y":12,"v":0.98},{"x":33,"y":12,"v":0.98},{"x":34,"y":12,"v":0.98},{"x":35,"y":12,"v":0.98},{"x":36,"y":12,"v":0.98},{"x":37,"y":12,"v":0.98},{"x":38,"y":12,"v":0.98},
{"x":1,"y":11,"v":0.53},{"x":2,"y":11,"v":0.53},{"x":3,"y":11,"v":0.98},{"x":4,"y":11,"v":0.98},{"x":5,"y":11,"v":0.43},{"x":6,"y":11,"v":0.98},{"x":7,"y":11,"v":0.98},{"x":8,"y":11,"v":0.98},{"x":9,"y":11,"v":0.98},{"x":10,"y":11,"v":0.98},{"x":11,"y":11,"v":0.98},{"x":12,"y":11,"v":0.98},{"x":13,"y":11,"v":0.98},{"x":14,"y":11,"v":0.98},{"x":15,"y":11,"v":0.03},{"x":16,"y":11,"v":0.08},{"x":17,"y":11,"v":0.03},{"x":18,"y":11,"v":0.98},{"x":19,"y":11,"v":0.98},{"x":20,"y":11,"v":0.98},{"x":21,"y":11,"v":0.63},{"x":22,"y":11,"v":0.98},{"x":23,"y":11,"v":0.98},{"x":24,"y":11,"v":0.98},{"x":25,"y":11,"v":0.28},{"x":26,"y":11,"v":0.98},{"x":27,"y":11,"v":0.98},{"x":28,"y":11,"v":0.98},{"x":29,"y":11,"v":0.98},{"x":30,"y":11,"v":0.63},{"x":31,"y":11,"v":0.98},{"x":32,"y":11,"v":0.98},{"x":33,"y":11,"v":0.98},{"x":34,"y":11,"v":0.98},{"x":35,"y":11,"v":0.98},{"x":36,"y":11,"v":0.98},{"x":37,"y":11,"v":0.98},{"x":38,"y":11,"v":0.98},
{"x":1,"y":10,"v":0.53},{"x":2,"y":10,"v":0.53},{"x":3,"y":10,"v":0.98},{"x":4,"y":10,"v":0.98},{"x":5,"y":10,"v":0.43},{"x":6,"y":10,"v":0.98},{"x":7,"y":10,"v":0.98},{"x":8,"y":10,"v":0.98},{"x":9,"y":10,"v":0.98},{"x":10,"y":10,"v":0.98},{"x":11,"y":10,"v":0.98},{"x":12,"y":10,"v":0.98},{"x":13,"y":10,"v":0.98},{"x":14,"y":10,"v":0.98},{"x":15,"y":10,"v":0.03},{"x":16,"y":10,"v":0.08},{"x":17,"y":10,"v":0.03},{"x":18,"y":10,"v":0.98},{"x":19,"y":10,"v":0.98},{"x":20,"y":10,"v":0.98},{"x":21,"y":10,"v":0.63},{"x":22,"y":10,"v":0.98},{"x":23,"y":10,"v":0.98},{"x":24,"y":10,"v":0.98},{"x":25,"y":10,"v":0.28},{"x":26,"y":10,"v":0.98},{"x":27,"y":10,"v":0.98},{"x":28,"y":10,"v":0.98},{"x":29,"y":10,"v":0.98},{"x":30,"y":10,"v":0.63},{"x":31,"y":10,"v":0.98},{"x":32,"y":10,"v":0.98},{"x":33,"y":10,"v":0.98},{"x":34,"y":10,"v":0.98},{"x":35,"y":10,"v":0.98},{"x":36,"y":10,"v":0.98},{"x":37,"y":10,"v":0.98},{"x":38,"y":10,"v":0.98},
{"x":1,"y":9,"v":0.53},{"x":2,"y":9,"v":0.53},{"x":3,"y":9,"v":0.98},{"x":4,"y":9,"v":0.98},{"x":5,"y":9,"v":0.43},{"x":6,"y":9,"v":0.98},{"x":7,"y":9,"v":0.98},{"x":8,"y":9,"v":0.98},{"x":9,"y":9,"v":0.98},{"x":10,"y":9,"v":0.98},{"x":11,"y":9,"v":0.98},{"x":12,"y":9,"v":0.98},{"x":13,"y":9,"v":0.98},{"x":14,"y":9,"v":0.98},{"x":15,"y":9,"v":0.03},{"x":16,"y":9,"v":0.08},{"x":17,"y":9,"v":0.03},{"x":18,"y":9,"v":0.98},{"x":19,"y":9,"v":0.98},{"x":20,"y":9,"v":0.98},{"x":21,"y":9,"v":0.63},{"x":22,"y":9,"v":0.98},{"x":23,"y":9,"v":0.98},{"x":24,"y":9,"v":0.98},{"x":25,"y":9,"v":0.28},{"x":26,"y":9,"v":0.98},{"x":27,"y":9,"v":0.98},{"x":28,"y":9,"v":0.98},{"x":29,"y":9,"v":0.98},{"x":30,"y":9,"v":0.63},{"x":31,"y":9,"v":0.98},{"x":32,"y":9,"v":0.98},{"x":33,"y":9,"v":0.98},{"x":34,"y":9,"v":0.98},{"x":35,"y":9,"v":0.98},{"x":36,"y":9,"v":0.98},{"x":37,"y":9,"v":0.98},{"x":38,"y":9,"v":0.98},
{"x":1,"y":8,"v":0.93},{"x":2,"y":8,"v":0.93},{"x":3,"y":8,"v":0.98},{"x":4,"y":8,"v":0.98},{"x":5,"y":8,"v":0.88},{"x":6,"y":8,"v":0.98},{"x":7,"y":8,"v":0.98},{"x":8,"y":8,"v":0.98},{"x":9,"y":8,"v":0.98},{"x":10,"y":8,"v":0.98},{"x":11,"y":8,"v":0.98},{"x":12,"y":8,"v":0.98},{"x":13,"y":8,"v":0.98},{"x":14,"y":8,"v":0.98},{"x":15,"y":8,"v":0.03},{"x":16,"y":8,"v":0.18},{"x":17,"y":8,"v":0.13},{"x":18,"y":8,"v":0.98},{"x":19,"y":8,"v":0.98},{"x":20,"y":8,"v":0.98},{"x":21,"y":8,"v":0.98},{"x":22,"y":8,"v":0.98},{"x":23,"y":8,"v":0.98},{"x":24,"y":8,"v":0.98},{"x":25,"y":8,"v":0.63},{"x":26,"y":8,"v":0.98},{"x":27,"y":8,"v":0.98},{"x":28,"y":8,"v":0.98},{"x":29,"y":8,"v":0.98},{"x":30,"y":8,"v":0.98},{"x":31,"y":8,"v":0.98},{"x":32,"y":8,"v":0.98},{"x":33,"y":8,"v":0.98},{"x":34,"y":8,"v":0.98},{"x":35,"y":8,"v":0.98},{"x":36,"y":8,"v":0.98},{"x":37,"y":8,"v":0.98},{"x":38,"y":8,"v":0.98},
{"x":1,"y":7,"v":0.33},{"x":2,"y":7,"v":0.33},{"x":3,"y":7,"v":0.98},{"x":4,"y":7,"v":0.98},{"x":5,"y":7,"v":0.28},{"x":6,"y":7,"v":0.98},{"x":7,"y":7,"v":0.98},{"x":8,"y":7,"v":0.98},{"x":9,"y":7,"v":0.98},{"x":10,"y":7,"v":0.98},{"x":11,"y":7,"v":0.98},{"x":12,"y":7,"v":0.98},{"x":13,"y":7,"v":0.88},{"x":14,"y":7,"v":0.98},{"x":15,"y":7,"v":0.03},{"x":16,"y":7,"v":0.03},{"x":17,"y":7,"v":0.03},{"x":18,"y":7,"v":0.98},{"x":19,"y":7,"v":0.98},{"x":20,"y":7,"v":0.88},{"x":21,"y":7,"v":0.43},{"x":22,"y":7,"v":0.98},{"x":23,"y":7,"v":0.93},{"x":24,"y":7,"v":0.93},{"x":25,"y":7,"v":0.13},{"x":26,"y":7,"v":0.88},{"x":27,"y":7,"v":0.98},{"x":28,"y":7,"v":0.98},{"x":29,"y":7,"v":0.98},{"x":30,"y":7,"v":0.43},{"x":31,"y":7,"v":0.98},{"x":32,"y":7,"v":0.98},{"x":33,"y":7,"v":0.98},{"x":34,"y":7,"v":0.98},{"x":35,"y":7,"v":0.98},{"x":36,"y":7,"v":0.98},{"x":37,"y":7,"v":0.98},{"x":38,"y":7,"v":0.98},
{"x":1,"y":6,"v":0.88},{"x":2,"y":6,"v":0.88},{"x":3,"y":6,"v":0.98},{"x":4,"y":6,"v":0.98},{"x":5,"y":6,"v":0.73},{"x":6,"y":6,"v":0.98},{"x":7,"y":6,"v":0.98},{"x":8,"y":6,"v":0.98},{"x":9,"y":6,"v":0.98},{"x":10,"y":6,"v":0.98},{"x":11,"y":6,"v":0.98},{"x":12,"y":6,"v":0.98},{"x":13,"y":6,"v":0.98},{"x":14,"y":6,"v":0.98},{"x":15,"y":6,"v":0.03},{"x":16,"y":6,"v":0.13},{"x":17,"y":6,"v":0.08},{"x":18,"y":6,"v":0.98},{"x":19,"y":6,"v":0.98},{"x":20,"y":6,"v":0.98},{"x":21,"y":6,"v":0.93},{"x":22,"y":6,"v":0.98},{"x":23,"y":6,"v":0.98},{"x":24,"y":6,"v":0.98},{"x":25,"y":6,"v":0.53},{"x":26,"y":6,"v":0.98},{"x":27,"y":6,"v":0.98},{"x":28,"y":6,"v":0.98},{"x":29,"y":6,"v":0.98},{"x":30,"y":6,"v":0.93},{"x":31,"y":6,"v":0.98},{"x":32,"y":6,"v":0.98},{"x":33,"y":6,"v":0.98},{"x":34,"y":6,"v":0.98},{"x":35,"y":6,"v":0.98},{"x":36,"y":6,"v":0.98},{"x":37,"y":6,"v":0.98},{"x":38,"y":6,"v":0.98},
{"x":1,"y":5,"v":0.98},{"x":2,"y":5,"v":0.98},{"x":3,"y":5,"v":0.63},{"x":4,"y":5,"v":0.88},{"x":5,"y":5,"v":0.98},{"x":6,"y":5,"v":0.73},{"x":7,"y":5,"v":0.33},{"x":8,"y":5,"v":0.88},{"x":9,"y":5,"v":0.43},{"x":10,"y":5,"v":0.43},{"x":11,"y":5,"v":0.43},{"x":12,"y":5,"v":0.53},{"x":13,"y":5,"v":0.98},{"x":14,"y":5,"v":0.33},{"x":15,"y":5,"v":0.43},{"x":16,"y":5,"v":0.98},{"x":17,"y":5,"v":0.88},{"x":18,"y":5,"v":0.53},{"x":19,"y":5,"v":0.73},{"x":20,"y":5,"v":0.98},{"x":21,"y":5,"v":0.98},{"x":22,"y":5,"v":0.33},{"x":23,"y":5,"v":0.98},{"x":24,"y":5,"v":0.98},{"x":25,"y":5,"v":0.98},{"x":26,"y":5,"v":0.98},{"x":27,"y":5,"v":0.88},{"x":28,"y":5,"v":0.88},{"x":29,"y":5,"v":0.93},{"x":30,"y":5,"v":0.98},{"x":31,"y":5,"v":0.33},{"x":32,"y":5,"v":0.53},{"x":33,"y":5,"v":0.88},{"x":34,"y":5,"v":0.63},{"x":35,"y":5,"v":0.33},{"x":36,"y":5,"v":0.88},{"x":37,"y":5,"v":0.88},{"x":38,"y":5,"v":0.33},
{"x":1,"y":4,"v":0.93},{"x":2,"y":4,"v":0.93},{"x":3,"y":4,"v":0.98},{"x":4,"y":4,"v":0.98},{"x":5,"y":4,"v":0.88},{"x":6,"y":4,"v":0.98},{"x":7,"y":4,"v":0.98},{"x":8,"y":4,"v":0.98},{"x":9,"y":4,"v":0.98},{"x":10,"y":4,"v":0.98},{"x":11,"y":4,"v":0.98},{"x":12,"y":4,"v":0.98},{"x":13,"y":4,"v":0.98},{"x":14,"y":4,"v":0.98},{"x":15,"y":4,"v":0.03},{"x":16,"y":4,"v":0.18},{"x":17,"y":4,"v":0.13},{"x":18,"y":4,"v":0.98},{"x":19,"y":4,"v":0.98},{"x":20,"y":4,"v":0.98},{"x":21,"y":4,"v":0.98},{"x":22,"y":4,"v":0.98},{"x":23,"y":4,"v":0.98},{"x":24,"y":4,"v":0.98},{"x":25,"y":4,"v":0.63},{"x":26,"y":4,"v":0.98},{"x":27,"y":4,"v":0.98},{"x":28,"y":4,"v":0.98},{"x":29,"y":4,"v":0.98},{"x":30,"y":4,"v":0.98},{"x":31,"y":4,"v":0.98},{"x":32,"y":4,"v":0.98},{"x":33,"y":4,"v":0.98},{"x":34,"y":4,"v":0.98},{"x":35,"y":4,"v":0.98},{"x":36,"y":4,"v":0.98},{"x":37,"y":4,"v":0.98},{"x":38,"y":4,"v":0.98},
{"x":1,"y":3,"v":0.73},{"x":2,"y":3,"v":0.73},{"x":3,"y":3,"v":0.98},{"x":4,"y":3,"v":0.98},{"x":5,"y":3,"v":0.63},{"x":6,"y":3,"v":0.98},{"x":7,"y":3,"v":0.98},{"x":8,"y":3,"v":0.98},{"x":9,"y":3,"v":0.98},{"x":10,"y":3,"v":0.98},{"x":11,"y":3,"v":0.98},{"x":12,"y":3,"v":0.98},{"x":13,"y":3,"v":0.98},{"x":14,"y":3,"v":0.98},{"x":15,"y":3,"v":0.03},{"x":16,"y":3,"v":0.18},{"x":17,"y":3,"v":0.13},{"x":18,"y":3,"v":0.98},{"x":19,"y":3,"v":0.98},{"x":20,"y":3,"v":0.98},{"x":21,"y":3,"v":0.93},{"x":22,"y":3,"v":0.98},{"x":23,"y":3,"v":0.98},{"x":24,"y":3,"v":0.98},{"x":25,"y":3,"v":0.43},{"x":26,"y":3,"v":0.98},{"x":27,"y":3,"v":0.98},{"x":28,"y":3,"v":0.98},{"x":29,"y":3,"v":0.98},{"x":30,"y":3,"v":0.98},{"x":31,"y":3,"v":0.98},{"x":32,"y":3,"v":0.98},{"x":33,"y":3,"v":0.98},{"x":34,"y":3,"v":0.98},{"x":35,"y":3,"v":0.98},{"x":36,"y":3,"v":0.98},{"x":37,"y":3,"v":0.98},{"x":38,"y":3,"v":0.98},
{"x":1,"y":2,"v":0.98},{"x":2,"y":2,"v":0.98},{"x":3,"y":2,"v":0.73},{"x":4,"y":2,"v":0.93},{"x":5,"y":2,"v":0.98},{"x":6,"y":2,"v":0.88},{"x":7,"y":2,"v":0.33},{"x":8,"y":2,"v":0.93},{"x":9,"y":2,"v":0.53},{"x":10,"y":2,"v":0.53},{"x":11,"y":2,"v":0.53},{"x":12,"y":2,"v":0.63},{"x":13,"y":2,"v":0.98},{"x":14,"y":2,"v":0.33},{"x":15,"y":2,"v":0.33},{"x":16,"y":2,"v":0.93},{"x":17,"y":2,"v":0.73},{"x":18,"y":2,"v":0.63},{"x":19,"y":2,"v":0.88},{"x":20,"y":2,"v":0.98},{"x":21,"y":2,"v":0.98},{"x":22,"y":2,"v":0.33},{"x":23,"y":2,"v":0.98},{"x":24,"y":2,"v":0.98},{"x":25,"y":2,"v":0.98},{"x":26,"y":2,"v":0.98},{"x":27,"y":2,"v":0.93},{"x":28,"y":2,"v":0.93},{"x":29,"y":2,"v":0.98},{"x":30,"y":2,"v":0.98},{"x":31,"y":2,"v":0.43},{"x":32,"y":2,"v":0.63},{"x":33,"y":2,"v":0.93},{"x":34,"y":2,"v":0.73},{"x":35,"y":2,"v":0.43},{"x":36,"y":2,"v":0.93},{"x":37,"y":2,"v":0.93},{"x":38,"y":2,"v":0.43},
{"x":1,"y":1,"v":0.98},{"x":2,"y":1,"v":0.98},{"x":3,"y":1,"v":0.73},{"x":4,"y":1,"v":0.93},{"x":5,"y":1,"v":0.98},{"x":6,"y":1,"v":0.88},{"x":7,"y":1,"v":0.33},{"x":8,"y":1,"v":0.93},{"x":9,"y":1,"v":0.53},{"x":10,"y":1,"v":0.53},{"x":11,"y":1,"v":0.53},{"x":12,"y":1,"v":0.63},{"x":13,"y":1,"v":0.98},{"x":14,"y":1,"v":0.33},{"x":15,"y":1,"v":0.33},{"x":16,"y":1,"v":0.93},{"x":17,"y":1,"v":0.73},{"x":18,"y":1,"v":0.63},{"x":19,"y":1,"v":0.88},{"x":20,"y":1,"v":0.98},{"x":21,"y":1,"v":0.98},{"x":22,"y":1,"v":0.33},{"x":23,"y":1,"v":0.98},{"x":24,"y":1,"v":0.98},{"x":25,"y":1,"v":0.98},{"x":26,"y":1,"v":0.98},{"x":27,"y":1,"v":0.93},{"x":28,"y":1,"v":0.93},{"x":29,"y":1,"v":0.98},{"x":30,"y":1,"v":0.98},{"x":31,"y":1,"v":0.43},{"x":32,"y":1,"v":0.63},{"x":33,"y":1,"v":0.93},{"x":34,"y":1,"v":0.73},{"x":35,"y":1,"v":0.43},{"x":36,"y":1,"v":0.93},{"x":37,"y":1,"v":0.93},{"x":38,"y":1,"v":0.43}
]},"mark":{"type":"rect","strokeWidth":0.4},"encoding":{
"x":{"field":"x","type":"ordinal","sort":"ascending","scale":{"paddingInner":0,"paddingOuter":0,"round":false},"axis":{"values":[5,10,15,20,25,30,35],"labelAngle":0,"labelFontSize":16.5,"labelColor":"#222","labelPadding":10,"tickSize":10,"tickColor":"#555","domainColor":"#666","title":"Student","titleFontSize":16.5,"titleFontWeight":"normal","titleColor":"#222","titlePadding":30,"labelFont":"Liberation Sans","titleFont":"Liberation Sans"}},
"y":{"field":"y","type":"ordinal","sort":"descending","scale":{"paddingInner":0,"paddingOuter":0,"round":false},"axis":{"values":[5,10,15,20,25,30,35],"labelAngle":-90,"labelAlign":"center","labelBaseline":"middle","labelFontSize":16.5,"labelColor":"#222","labelPadding":22,"tickSize":10,"tickColor":"#555","domain":false,"title":"Student","titleFontSize":16.5,"titleFontWeight":"normal","titleColor":"#222","titlePadding":26,"labelFont":"Liberation Sans","titleFont":"Liberation Sans"}},
"color":{"field":"v","type":"quantitative","legend":null,"scale":{"type":"threshold","domain":[0.05,0.1,0.15,0.2,0.25,0.3,0.35,0.4,0.45,0.5,0.55,0.6,0.65,0.7,0.75,0.8,0.85,0.9,0.95],"range":["#0000FF","#FF0000","#FF1200","#FF2400","#FF3700","#FF4900","#FF5B00","#FF6D00","#FF8000","#FF9200","#FFA400","#FFB600","#FFC800","#FFDB00","#FFED00","#FFFF00","#FFFF20","#FFFF60","#FFFF9F","#FFFFDF"]}},
"stroke":{"field":"v","type":"quantitative","legend":null,"scale":{"type":"threshold","domain":[0.05,0.1,0.15,0.2,0.25,0.3,0.35,0.4,0.45,0.5,0.55,0.6,0.65,0.7,0.75,0.8,0.85,0.9,0.95],"range":["#0000FF","#FF0000","#FF1200","#FF2400","#FF3700","#FF4900","#FF5B00","#FF6D00","#FF8000","#FF9200","#FFA400","#FFB600","#FFC800","#FFDB00","#FFED00","#FFFF00","#FFFF20","#FFFF60","#FFFF9F","#FFFFDF"]}}
}},{"data":{"values":[{"y":1}]},"mark":{"type":"rect","fillOpacity":0,"strokeOpacity":0},"encoding":{"y":{"field":"y","type":"ordinal","sort":"descending","axis":{"orient":"right","labels":false,"ticks":false,"title":null,"domain":true,"domainColor":"#666","values":[]}}}}]},
{"width":19,"height":328,"data":{"values":[{"lo":0,"hi":0.05,"v":0.025},{"lo":0.05,"hi":0.1,"v":0.075},{"lo":0.1,"hi":0.15,"v":0.125},{"lo":0.15,"hi":0.2,"v":0.175},{"lo":0.2,"hi":0.25,"v":0.225},{"lo":0.25,"hi":0.3,"v":0.275},{"lo":0.3,"hi":0.35,"v":0.325},{"lo":0.35,"hi":0.4,"v":0.375},{"lo":0.4,"hi":0.45,"v":0.425},{"lo":0.45,"hi":0.5,"v":0.475},{"lo":0.5,"hi":0.55,"v":0.525},{"lo":0.55,"hi":0.6,"v":0.575},{"lo":0.6,"hi":0.65,"v":0.625},{"lo":0.65,"hi":0.7,"v":0.675},{"lo":0.7,"hi":0.75,"v":0.725},{"lo":0.75,"hi":0.8,"v":0.775},{"lo":0.8,"hi":0.85,"v":0.825},{"lo":0.85,"hi":0.9,"v":0.875},{"lo":0.9,"hi":0.95,"v":0.925},{"lo":0.95,"hi":1,"v":0.975}]},
"layer":[{"mark":{"type":"rect"},"encoding":{"y":{"field":"lo","type":"quantitative","scale":{"domain":[-0.0578,1.0578],"nice":false,"zero":false},"axis":{"orient":"right","values":[0,0.2,0.4,0.6,0.8,1],"format":".1f","domain":false,"grid":false,"tickSize":11,"tickColor":"#444","labelFontSize":16.5,"labelColor":"#222","labelPadding":8,"title":null,"labelFont":"Liberation Sans"}},"y2":{"field":"hi"},
"color":{"field":"v","type":"quantitative","legend":null,"scale":{"type":"threshold","domain":[0.05,0.1,0.15,0.2,0.25,0.3,0.35,0.4,0.45,0.5,0.55,0.6,0.65,0.7,0.75,0.8,0.85,0.9,0.95],"range":["#0000FF","#FF0000","#FF1200","#FF2400","#FF3700","#FF4900","#FF5B00","#FF6D00","#FF8000","#FF9200","#FFA400","#FFB600","#FFC800","#FFDB00","#FFED00","#FFFF00","#FFFF20","#FFFF60","#FFFF9F","#FFFFDF"]}}}},
{"data":{"values":[{"lo":0,"hi":1}]},"mark":{"type":"rect","fillOpacity":0,"stroke":"#444","strokeWidth":1},"encoding":{"y":{"field":"lo","type":"quantitative"},"y2":{"field":"hi"}}}]}
]}
